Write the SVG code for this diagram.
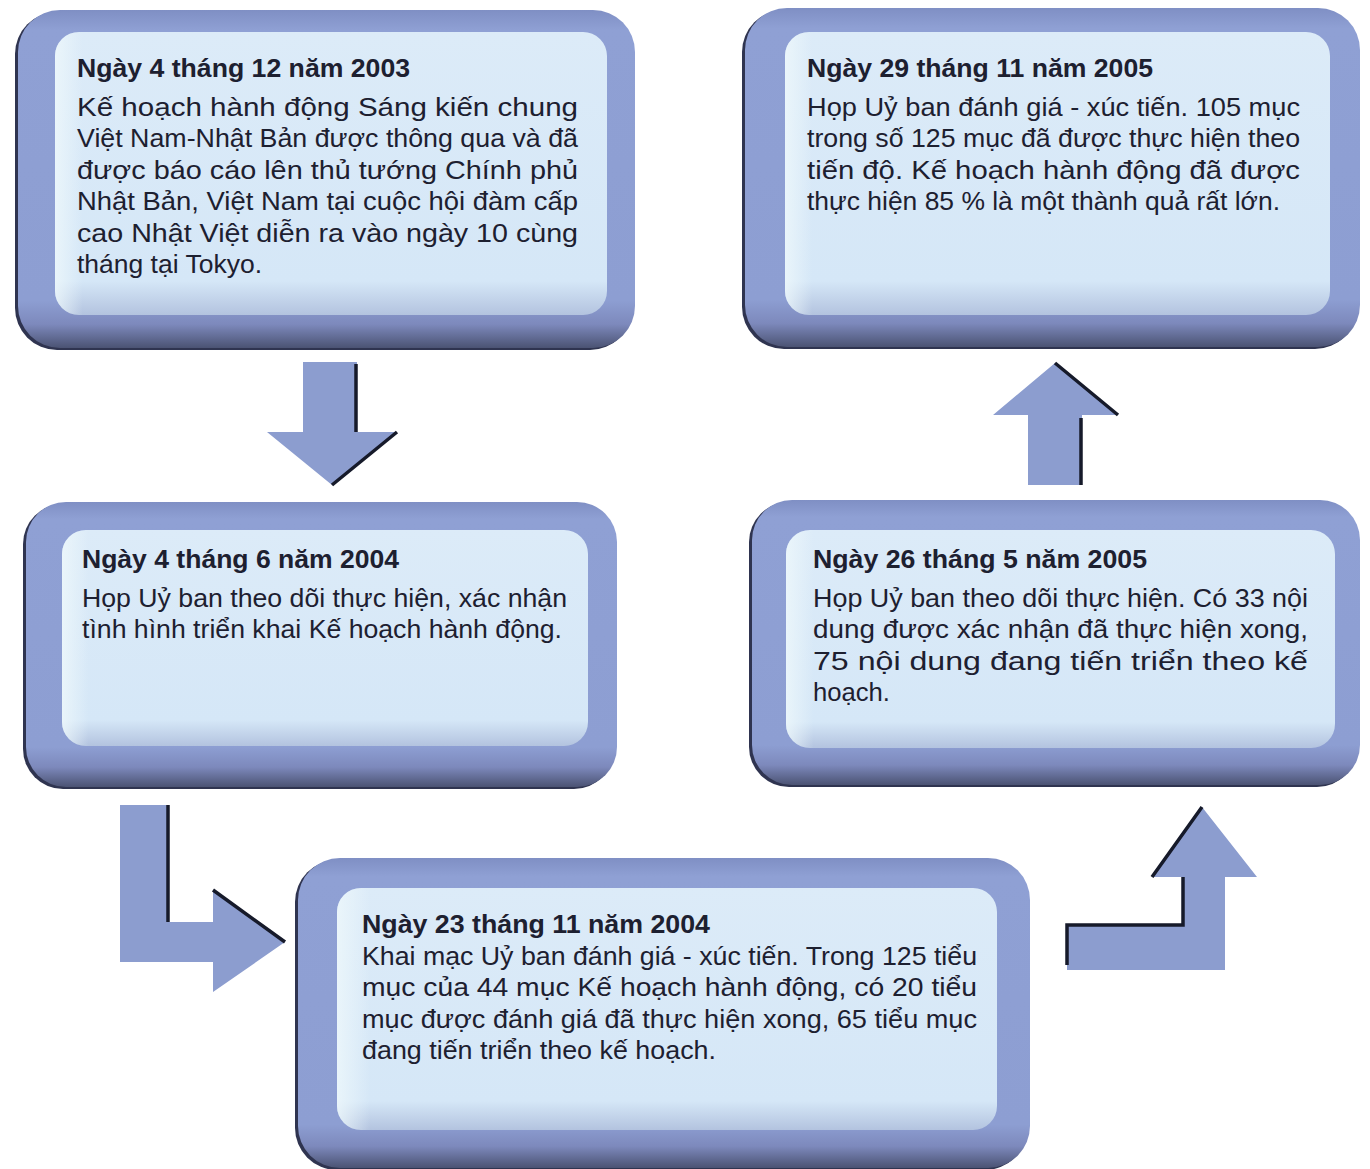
<svg xmlns="http://www.w3.org/2000/svg" width="1370" height="1169" viewBox="0 0 1370 1169">
<defs>
<linearGradient id="frame" x1="0" y1="0" x2="0" y2="1">
<stop offset="0" stop-color="#7f8fc4"/>
<stop offset="0.06" stop-color="#8fa0d4"/>
<stop offset="0.86" stop-color="#8d9ed2"/>
<stop offset="0.93" stop-color="#7d89bc"/>
<stop offset="1" stop-color="#4b5373"/>
</linearGradient>
<linearGradient id="panel" x1="0" y1="0" x2="0" y2="1">
<stop offset="0" stop-color="#dcebf8"/>
<stop offset="0.88" stop-color="#d5e7f7"/>
<stop offset="1" stop-color="#b3c3df"/>
</linearGradient>
<linearGradient id="panelL" x1="0" y1="0" x2="1" y2="0">
<stop offset="0" stop-color="#eef8fb" stop-opacity="0.8"/>
<stop offset="0.05" stop-color="#eef8fb" stop-opacity="0"/>
<stop offset="1" stop-color="#eef8fb" stop-opacity="0"/>
</linearGradient>
</defs>
<style>
.shadow{fill:#2f3450}
.frame{fill:url(#frame)}
.panel{fill:url(#panel)}
.panelL{fill:url(#panelL)}
.t{font-family:"Liberation Sans",Arial,sans-serif;fill:#1d2030}
.h{font-size:26px;font-weight:bold}
.b{font-size:25px}
.arrow{fill:#8c9dcf}
.edge{fill:none;stroke:#161a2a;stroke-width:3.5}
</style>
<rect width="1370" height="1169" fill="#ffffff"/>

<g id="connectors">
<polygon class="arrow" points="303,362 357,362 357,432 397,432 332,485 267,432 303,432"/>
<path class="edge" d="M356,364 V432 M397,432 L332,485"/>
<polygon class="arrow" points="1028,485 1028,415 993,415 1055,363 1118,415 1082,415 1082,485"/>
<path class="edge" d="M1055,363 L1118,415 M1081,418 V485"/>
<polygon class="arrow" points="120,805 169,805 169,922 213,922 213,890 285,942 213,992 213,962 120,962"/>
<path class="edge" d="M168,805 V922 M213,890 L285,942"/>
<polygon class="arrow" points="1067,925 1183,925 1183,877 1152,877 1202,807 1257,877 1225,877 1225,970 1067,970"/>
<path class="edge" d="M1067,965 V925 H1183 V877 M1152,877 L1202,807"/>
</g>

<g id="box1">
<rect class="shadow" x="15" y="12" width="617" height="338" rx="42"/>
<rect class="frame" x="18" y="10" width="617" height="338" rx="42"/>
<rect class="panel" x="55" y="32" width="552" height="283" rx="24"/>
<rect class="panelL" x="55" y="32" width="552" height="283" rx="24"/>
<text class="t h" x="77" y="77" textLength="333" lengthAdjust="spacingAndGlyphs">Ngày 4 tháng 12 năm 2003</text>
<text class="t b" x="77" y="116" textLength="501" lengthAdjust="spacingAndGlyphs">Kế hoạch hành động Sáng kiến chung</text>
<text class="t b" x="77" y="147" textLength="501" lengthAdjust="spacingAndGlyphs">Việt Nam-Nhật Bản được thông qua và đã</text>
<text class="t b" x="77" y="179" textLength="501" lengthAdjust="spacingAndGlyphs">được báo cáo lên thủ tướng Chính phủ</text>
<text class="t b" x="77" y="210" textLength="501" lengthAdjust="spacingAndGlyphs">Nhật Bản, Việt Nam tại cuộc hội đàm cấp</text>
<text class="t b" x="77" y="242" textLength="501" lengthAdjust="spacingAndGlyphs">cao Nhật Việt diễn ra vào ngày 10 cùng</text>
<text class="t b" x="77" y="273" textLength="185" lengthAdjust="spacingAndGlyphs">tháng tại Tokyo.</text>
</g>

<g id="box2">
<rect class="shadow" x="23" y="504" width="591" height="285" rx="40"/>
<rect class="frame" x="26" y="502" width="591" height="285" rx="40"/>
<rect class="panel" x="62" y="530" width="526" height="216" rx="24"/>
<rect class="panelL" x="62" y="530" width="526" height="216" rx="24"/>
<text class="t h" x="82" y="568" textLength="317" lengthAdjust="spacingAndGlyphs">Ngày 4 tháng 6 năm 2004</text>
<text class="t b" x="82" y="607" textLength="485" lengthAdjust="spacingAndGlyphs">Họp Uỷ ban theo dõi thực hiện, xác nhận</text>
<text class="t b" x="82" y="638" textLength="480" lengthAdjust="spacingAndGlyphs">tình hình triển khai Kế hoạch hành động.</text>
</g>

<g id="box3">
<rect class="shadow" x="742" y="10" width="615" height="339" rx="42"/>
<rect class="frame" x="745" y="8" width="615" height="339" rx="42"/>
<rect class="panel" x="785" y="32" width="545" height="283" rx="24"/>
<rect class="panelL" x="785" y="32" width="545" height="283" rx="24"/>
<text class="t h" x="807" y="77" textLength="346" lengthAdjust="spacingAndGlyphs">Ngày 29 tháng 11 năm 2005</text>
<text class="t b" x="807" y="116" textLength="493" lengthAdjust="spacingAndGlyphs">Họp Uỷ ban đánh giá - xúc tiến. 105 mục</text>
<text class="t b" x="807" y="147" textLength="493" lengthAdjust="spacingAndGlyphs">trong số 125 mục đã được thực hiện theo</text>
<text class="t b" x="807" y="179" textLength="493" lengthAdjust="spacingAndGlyphs">tiến độ. Kế hoạch hành động đã được</text>
<text class="t b" x="807" y="210" textLength="473" lengthAdjust="spacingAndGlyphs">thực hiện 85 % là một thành quả rất lớn.</text>
</g>

<g id="box4">
<rect class="shadow" x="749" y="502" width="608" height="285" rx="40"/>
<rect class="frame" x="752" y="500" width="608" height="285" rx="40"/>
<rect class="panel" x="786" y="530" width="549" height="218" rx="24"/>
<rect class="panelL" x="786" y="530" width="549" height="218" rx="24"/>
<text class="t h" x="813" y="568" textLength="334" lengthAdjust="spacingAndGlyphs">Ngày 26 tháng 5 năm 2005</text>
<text class="t b" x="813" y="607" textLength="495" lengthAdjust="spacingAndGlyphs">Họp Uỷ ban theo dõi thực hiện. Có 33 nội</text>
<text class="t b" x="813" y="638" textLength="495" lengthAdjust="spacingAndGlyphs">dung được xác nhận đã thực hiện xong,</text>
<text class="t b" x="813" y="670" textLength="495" lengthAdjust="spacingAndGlyphs">75 nội dung đang tiến triển theo kế</text>
<text class="t b" x="813" y="701" textLength="77" lengthAdjust="spacingAndGlyphs">hoạch.</text>
</g>

<g id="box5">
<rect class="shadow" x="295" y="860" width="732" height="310" rx="42"/>
<rect class="frame" x="298" y="858" width="732" height="310" rx="42"/>
<rect class="panel" x="337" y="888" width="660" height="242" rx="24"/>
<rect class="panelL" x="337" y="888" width="660" height="242" rx="24"/>
<text class="t h" x="362" y="933" textLength="348" lengthAdjust="spacingAndGlyphs">Ngày 23 tháng 11 năm 2004</text>
<text class="t b" x="362" y="965" textLength="615" lengthAdjust="spacingAndGlyphs">Khai mạc Uỷ ban đánh giá - xúc tiến. Trong 125 tiểu</text>
<text class="t b" x="362" y="996" textLength="615" lengthAdjust="spacingAndGlyphs">mục của 44 mục Kế hoạch hành động, có 20 tiểu</text>
<text class="t b" x="362" y="1028" textLength="615" lengthAdjust="spacingAndGlyphs">mục được đánh giá đã thực hiện xong, 65 tiểu mục</text>
<text class="t b" x="362" y="1059" textLength="354" lengthAdjust="spacingAndGlyphs">đang tiến triển theo kế hoạch.</text>
</g>
</svg>
